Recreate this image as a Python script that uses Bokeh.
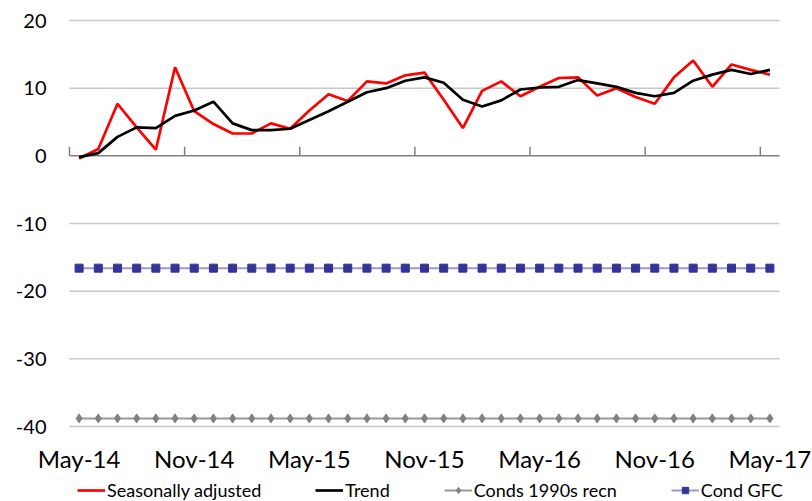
from bokeh.plotting import figure
from bokeh.models import Range1d, Legend, LegendItem
from bokeh.core.properties import value
from bokeh.embed import file_html
from bokeh.resources import INLINE

# ---- data ----
months = ["May-14", "Jun-14", "Jul-14", "Aug-14", "Sep-14", "Oct-14", "Nov-14", "Dec-14",
          "Jan-15", "Feb-15", "Mar-15", "Apr-15", "May-15", "Jun-15", "Jul-15", "Aug-15",
          "Sep-15", "Oct-15", "Nov-15", "Dec-15", "Jan-16", "Feb-16", "Mar-16", "Apr-16",
          "May-16", "Jun-16", "Jul-16", "Aug-16", "Sep-16", "Oct-16", "Nov-16", "Dec-16",
          "Jan-17", "Feb-17", "Mar-17", "Apr-17", "May-17"]
seasonally_adjusted = [-0.4, 1.0, 7.7, 4.2, 0.9, 13.1, 6.6, 4.7, 3.3, 3.3, 4.8, 4.0,
                       6.7, 9.1, 8.1, 11.0, 10.7, 11.9, 12.3, 8.3, 4.1, 9.6, 11.0, 8.8,
                       10.2, 11.5, 11.6, 8.9, 10.0, 8.7, 7.7, 11.6, 14.1, 10.2, 13.5, 12.7, 12.0]
trend = [-0.2, 0.4, 2.8, 4.2, 4.1, 5.9, 6.7, 8.0, 4.8, 3.8, 3.8, 4.0,
         5.3, 6.6, 8.0, 9.4, 10.0, 11.1, 11.6, 10.8, 8.3, 7.3, 8.2, 9.8,
         10.1, 10.2, 11.2, 10.7, 10.2, 9.3, 8.8, 9.3, 11.1, 12.0, 12.7, 12.1, 12.7]
conds_1990s = [-38.8] * len(months)
cond_gfc = [-16.6] * len(months)
y_ticks = [-40, -30, -20, -10, 0, 10, 20]
y_tick_labels = ["-40", "-30", "-20", "-10", "0", "10", "20"]
label_every = 6

# ---- layout (pixels) ----
W, H = 812, 501
plot_left, plot_right = 69, 779
plot_top, plot_bottom = 20, 426
y_min, y_max = min(y_ticks), max(y_ticks)

n = len(months)
x = list(range(n))
px_x = (plot_right - plot_left) / n
px_y = (plot_bottom - plot_top) / (y_max - y_min)
x0, x1 = -0.5, n - 0.5
xr = Range1d(x0 - plot_left / px_x, x1 + (W - plot_right) / px_x)
yr = Range1d(y_min - (H - plot_bottom) / px_y, y_max + plot_top / px_y)

p = figure(width=W, height=H, output_backend="svg", toolbar_location=None,
           x_range=xr, y_range=yr, min_border=0)
p.outline_line_color = None
p.background_fill_color = "white"
p.border_fill_color = "white"
p.axis.visible = False
p.grid.visible = False

# horizontal gridlines
grid_vals = [t for t in y_ticks if t != 0]
p.segment(x0=[x0] * len(grid_vals), y0=grid_vals, x1=[x1] * len(grid_vals), y1=grid_vals,
          line_color="#c8c8c8", line_width=1.5)

# y tick labels
p.text(x=[x0 - 23 / px_x] * len(y_ticks), y=y_ticks, text=y_tick_labels,
       text_font=value("Lato"), text_font_size="20px", text_color="#000000",
       text_align="right", text_baseline="middle")

# category labels (every 6th month) under the plot area
lab_x = x[::label_every]
lab_txt = [months[i] for i in lab_x]
p.text(x=lab_x, y=[y_min - 32 / px_y] * len(lab_x), text=lab_txt,
       text_font=value("Lato"), text_font_size="24px", text_color="#000000",
       text_align="center", text_baseline="middle")

# series
r_1990_l = p.line(x, conds_1990s, line_color="#999999", line_width=2)
r_1990_m = p.scatter(x, conds_1990s, marker="diamond", size=9, fill_color="#808080",
                     line_color="#808080")
r_gfc_l = p.line(x, cond_gfc, line_color="#9a9ad2", line_width=2)
r_gfc_m = p.scatter(x, cond_gfc, marker="square", size=8, fill_color="#333399",
                    line_color="#333399")

# zero axis line with tick marks at category boundaries
p.segment(x0=[x0], y0=[0], x1=[x1], y1=[0], line_color="#808080", line_width=1.5)
bounds = [i - 0.5 for i in lab_x]
p.segment(x0=bounds, y0=[0] * len(bounds), x1=bounds, y1=[9 / px_y] * len(bounds),
          line_color="#808080", line_width=1.5)

r_sa = p.line(x, seasonally_adjusted, line_color="#ff0000", line_width=2.7)
r_tr = p.line(x, trend, line_color="#000000", line_width=2.7)

legend = Legend(items=[
    LegendItem(label="Seasonally adjusted", renderers=[r_sa]),
    LegendItem(label="Trend", renderers=[r_tr]),
    LegendItem(label="Conds 1990s recn", renderers=[r_1990_l, r_1990_m]),
    LegendItem(label="Cond GFC", renderers=[r_gfc_l, r_gfc_m]),
], orientation="horizontal", padding=0, margin=0, spacing=54,
    glyph_width=28, glyph_height=16, label_standoff=2, label_height=16,
    label_text_font="Lato", label_text_font_size="18px", label_text_color="#000000",
    border_line_alpha=0, background_fill_alpha=0, location=(77, 0))
p.add_layout(legend, "center")

open("out.html", "w").write(file_html(p, INLINE))
